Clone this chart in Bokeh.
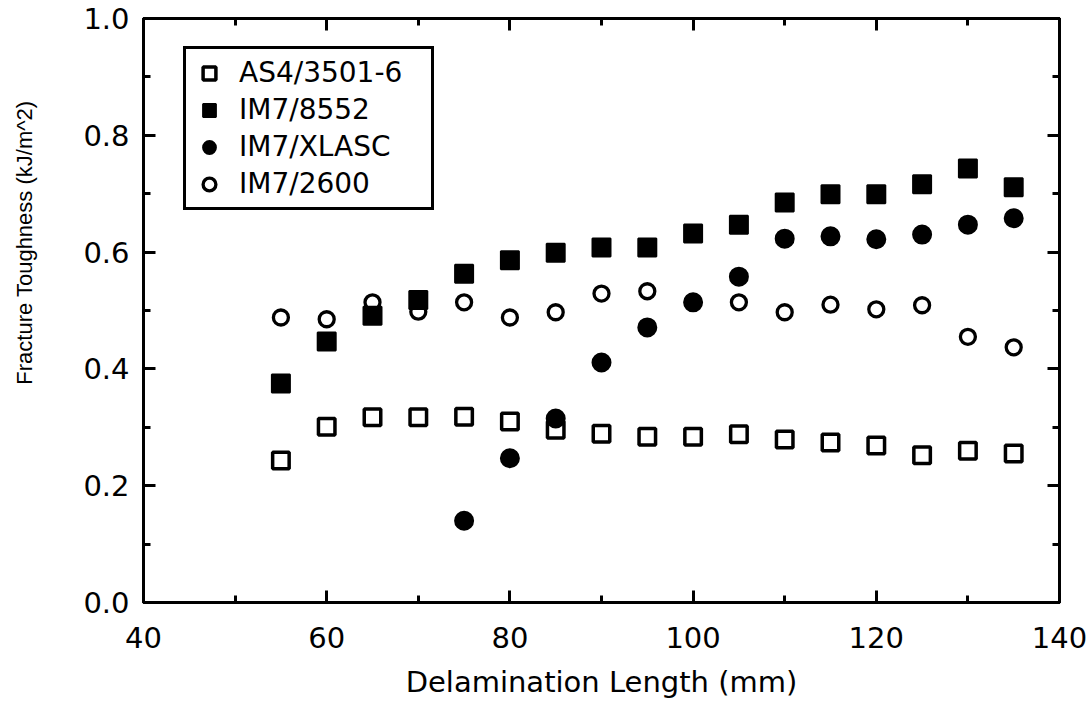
from bokeh.plotting import figure
from bokeh.models import (Range1d, LinearAxis, SingleIntervalTicker, PrintfTickFormatter,
                          Legend, LegendItem, Title)
from bokeh.embed import file_html
from bokeh.resources import INLINE

# ---- data ----
lengths = [55, 60, 65, 70, 75, 80, 85, 90, 95, 100, 105, 110, 115, 120, 125, 130, 135]
as4_3501 = [0.243, 0.301, 0.317, 0.317, 0.318, 0.310, 0.296, 0.289, 0.284, 0.284,
            0.288, 0.279, 0.274, 0.269, 0.252, 0.260, 0.255]
im7_8552 = [0.375, 0.447, 0.491, 0.518, 0.563, 0.586, 0.599, 0.608, 0.608, 0.632,
            0.647, 0.685, 0.699, 0.699, 0.716, 0.743, 0.711]
xlasc_lengths = [75, 80, 85, 90, 95, 100, 105, 110, 115, 120, 125, 130, 135]
im7_xlasc = [0.140, 0.247, 0.315, 0.411, 0.471, 0.514, 0.558, 0.623, 0.627, 0.622,
             0.630, 0.647, 0.658]
im7_2600 = [0.488, 0.485, 0.514, 0.498, 0.514, 0.488, 0.497, 0.529, 0.533, 0.514,
            0.514, 0.497, 0.510, 0.502, 0.509, 0.455, 0.437]

series_names = ["AS4/3501-6", "IM7/8552", "IM7/XLASC", "IM7/2600"]
x_title = "Delamination Length (mm)"
y_title = "Fracture Toughness (kJ/m^2)"

FONT = "DejaVu Sans"

p = figure(width=1088, height=703, output_backend="svg", toolbar_location=None,
           x_range=Range1d(40, 140), y_range=Range1d(0, 1.0),
           min_border_left=143, min_border_right=29, min_border_top=18, min_border_bottom=101)
p.background_fill_color = "white"
p.border_fill_color = "white"
p.grid.visible = False
p.outline_line_color = "black"
p.outline_line_width = 3


def style_axis(ax, show_labels):
    ax.axis_line_color = "black"
    ax.axis_line_width = 3
    ax.major_tick_in = 12
    ax.major_tick_out = 0
    ax.minor_tick_in = 7
    ax.minor_tick_out = 0
    ax.major_tick_line_width = 3
    ax.minor_tick_line_width = 3
    ax.major_tick_line_color = "black"
    ax.minor_tick_line_color = "black"
    if show_labels:
        ax.major_label_text_font = FONT
        ax.major_label_text_font_size = "29px"
        ax.major_label_text_color = "black"
    else:
        ax.major_label_text_font_size = "0px"
        ax.major_label_text_color = None
        ax.major_label_standoff = 0


p.xaxis.ticker = SingleIntervalTicker(interval=20, num_minor_ticks=2)
p.yaxis.ticker = SingleIntervalTicker(interval=0.2, num_minor_ticks=2)
p.yaxis.formatter = PrintfTickFormatter(format="%.1f")
for ax in p.xaxis:
    style_axis(ax, True)
    ax.major_label_standoff = 24
    ax.axis_label = x_title
    ax.axis_label_text_font = FONT
    ax.axis_label_text_font_size = "29px"
    ax.axis_label_text_font_style = "normal"
    ax.axis_label_text_color = "black"
    ax.axis_label_standoff = 14
for ax in p.yaxis:
    style_axis(ax, True)
    ax.major_label_standoff = 14

top_ax = LinearAxis(ticker=SingleIntervalTicker(interval=20, num_minor_ticks=2))
right_ax = LinearAxis(ticker=SingleIntervalTicker(interval=0.2, num_minor_ticks=2))
style_axis(top_ax, False)
style_axis(right_ax, False)
p.add_layout(top_ax, "above")
p.add_layout(right_ax, "right")

# ---- markers ----
r_as4 = p.scatter(lengths, as4_3501, marker="square", size=16.5, fill_color="white",
                  line_color="black", line_width=3.5)
r_2600 = p.scatter(lengths, im7_2600, marker="circle", size=15, fill_color="white",
                   line_color="black", line_width=3.3)
r_8552 = p.scatter(lengths, im7_8552, marker="square", size=18, fill_color="black",
                   line_color="black", line_width=2)
r_xl = p.scatter(xlasc_lengths, im7_xlasc, marker="circle", size=18, fill_color="black",
                 line_color="black", line_width=2)

legend = Legend(items=[LegendItem(label=series_names[0], renderers=[r_as4]),
                       LegendItem(label=series_names[1], renderers=[r_8552]),
                       LegendItem(label=series_names[2], renderers=[r_xl]),
                       LegendItem(label=series_names[3], renderers=[r_2600])],
                location=(40, 392), margin=0, padding=7, spacing=4,
                glyph_width=32, glyph_height=32, label_height=32, label_width=185,
                label_standoff=14, label_text_font=FONT, label_text_font_size="28px",
                label_text_color="black", border_line_color="black", border_line_width=3,
                border_line_alpha=1.0,
                background_fill_color="white", background_fill_alpha=1.0)
p.add_layout(legend)

# ---- y axis title (spacer panel pushes it outward, offset places it along the axis) ----
spacer = Title(text=" ", text_font_size="24px", text_color="white")
p.add_layout(spacer, "left")
ytitle = Title(text=y_title, align="right", offset=82, text_font="Liberation Sans",
               text_font_size="22px", text_font_style="normal", text_color="black")
p.add_layout(ytitle, "left")

open("out.html", "w").write(file_html(p, INLINE))
